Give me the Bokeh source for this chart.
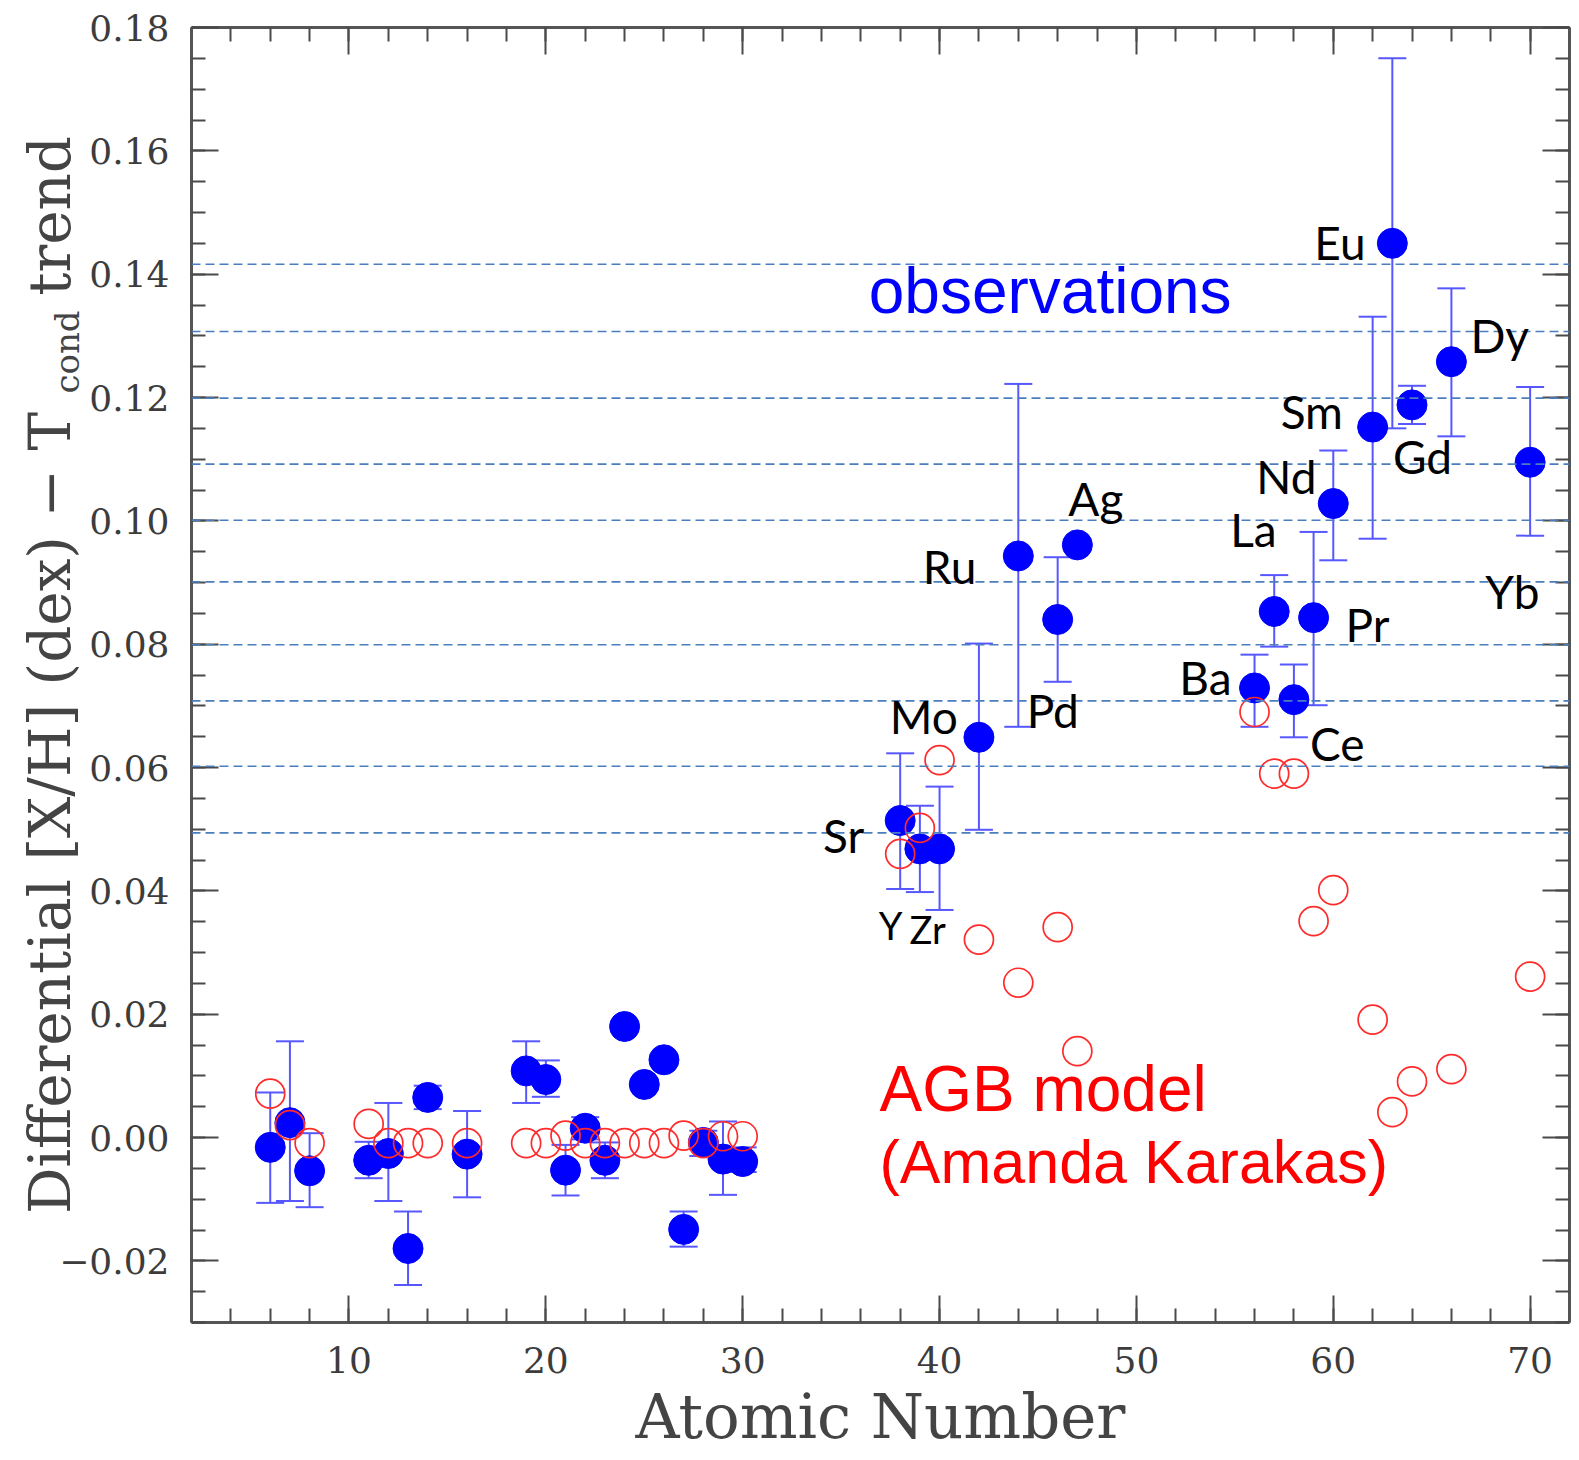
from bokeh.plotting import figure
from bokeh.models import (ColumnDataSource, Whisker, TeeHead, Span, Label, LinearAxis,
                          FixedTicker, CustomJSTickFormatter, Range1d)
from bokeh.embed import file_html
from bokeh.resources import INLINE

# ---------------------------------------------------------------- data
atomic_number = [6, 7, 8, 11, 12, 13, 14, 16, 19, 20, 21, 22, 23, 24, 25, 26, 27, 28, 29, 30,
                 38, 39, 40, 42, 44, 46, 47, 56, 57, 58, 59, 60, 62, 63, 64, 66, 70]
element = ["C", "N", "O", "Na", "Mg", "Al", "Si", "S", "K", "Ca", "Sc", "Ti", "V", "Cr", "Mn",
           "Fe", "Co", "Ni", "Cu", "Zn",
           "Sr", "Y", "Zr", "Mo", "Ru", "Pd", "Ag", "Ba", "La", "Ce", "Pr", "Nd", "Sm", "Eu",
           "Gd", "Dy", "Yb"]

# observed differential abundance after removing the T_cond trend (dex)
observed = [-0.0016, 0.0024, -0.0054, -0.0037, -0.0026, -0.0180, 0.0065, -0.0027, 0.0108, 0.0094,
            -0.0053, 0.0015, -0.0037, 0.0180, 0.0086, 0.0126, -0.0149, -0.0008, -0.0035, -0.0039,
            0.0514, 0.0468, 0.0468, 0.0649, 0.0943, 0.0840, 0.0961, 0.0729, 0.0853, 0.0710,
            0.0843, 0.1028, 0.1152, 0.1450, 0.1188, 0.1258, 0.1095]

# error bar ends (None: no bar)
err_top = [0.0073, 0.0156, 0.0007, -0.0007, 0.0056, -0.0120, 0.0084, 0.0043, 0.0156, 0.0125,
           -0.0012, 0.0033, -0.0008, None, None, None, -0.0120, 0.0011, 0.0026, -0.0016,
           0.0623, 0.0538, 0.0569, 0.0801, 0.1222, 0.0941, None, 0.0783, 0.0912, 0.0767,
           0.0982, 0.1114, 0.1331, 0.1750, 0.1219, 0.1377, 0.1217]
err_bottom = [-0.0106, -0.0103, -0.0113, -0.0066, -0.0103, -0.0239, 0.0046, -0.0097, 0.0056, 0.0066,
              -0.0094, -0.0003, -0.0066, None, None, None, -0.0177, -0.0030, -0.0093, -0.0056,
              0.0403, 0.0398, 0.0369, 0.0499, 0.0666, 0.0739, None, 0.0666, 0.0796, 0.0649,
              0.0701, 0.0936, 0.0971, 0.1150, 0.1157, 0.1137, 0.0976]

# AGB model prediction (Amanda Karakas)
agb_model = [0.0071, 0.0020, -0.0009, 0.0022, -0.0009, -0.0009, -0.0009, -0.0009, -0.0009, -0.0009,
             0.0003, -0.0009, -0.0009, -0.0009, -0.0009, -0.0009, 0.0003, -0.0009, 0.0002, 0.0002,
             0.0460, 0.0502, 0.0612, 0.0321, 0.0251, 0.0341, 0.0140, 0.0690, 0.0590, 0.0590,
             0.0351, 0.0401, 0.0191, 0.0041, 0.0091, 0.0111, 0.0261]

# dashed reference levels
guide_levels = [0.1416, 0.1307, 0.1199, 0.1092, 0.1001, 0.0901, 0.0799, 0.0708, 0.0602, 0.0494]

x_major = [10, 20, 30, 40, 50, 60, 70]
y_major = [-0.02, 0.0, 0.02, 0.04, 0.06, 0.08, 0.10, 0.12, 0.14, 0.16, 0.18]

# ---------------------------------------------------------------- styling
BLUE = "#0000ff"
ERR = "#5757ff"
RED = "#ff2b2b"
GUIDE = "#4a7ebf"
AXIS = "#555555"
TICK_TXT = "#3c3c3c"
TITLE_TXT = "#444444"
SERIF = "DejaVu Serif"
SANS = "Liberation Sans"
ELEM_FONT = "Lato"
EMSP = "\u2003"

# element label placement: (text_align, dx px, dy px below marker centre, size)
label_place = {
    "Sr": ("right", -36, 15, "46px"),
    "Y":  ("left", -41, 76, "38px"),
    "Zr": ("left", -30, 80, "38px"),
    "Mo": ("right", -21, -21, "46px"),
    "Ru": ("right", -42, 11, "46px"),
    "Pd": ("left", -31, 91, "46px"),
    "Ag": ("left", -9, -46, "46px"),
    "Ba": ("right", -23, -10, "46px"),
    "La": ("left", -44, -82, "46px"),
    "Ce": ("left", 16, 44, "46px"),
    "Pr": ("left", 32, 7, "46px"),
    "Nd": ("left", -77, -27, "46px"),
    "Sm": ("left", -92, -16, "46px"),
    "Eu": ("left", -78, -1, "46px"),
    "Gd": ("left", -19, 52, "46px"),
    "Dy": ("left", 19, -26, "46px"),
    "Yb": ("left", -45, 129, "46px"),
}

p = figure(width=1579, height=1460, x_range=Range1d(2, 72), y_range=Range1d(-0.03, 0.18),
           output_backend="svg", toolbar_location=None,
           min_border_left=191, min_border_right=10, min_border_top=27, min_border_bottom=138,
           background_fill_color="white", border_fill_color="white")
p.outline_line_color = None
p.xgrid.visible = False
p.ygrid.visible = False

bottom_axis = p.xaxis[0]
left_axis = p.yaxis[0]

x_ticker = FixedTicker(ticks=x_major, minor_ticks=list(range(2, 73, 2)))
y_ticker = FixedTicker(ticks=y_major, minor_ticks=[round(-0.03 + 0.005 * i, 4) for i in range(43)])

y_fmt = CustomJSTickFormatter(code="""
    const v = Math.abs(tick) < 1e-9 ? 0 : tick;
    return (v < 0 ? '\\u2212' : '') + Math.abs(v).toFixed(2);
""")
x_fmt = CustomJSTickFormatter(code="return Math.round(tick).toString();")
blank_fmt = CustomJSTickFormatter(code="return '';")


def style_axis(ax, ticker, fmt, standoff):
    ax.ticker = ticker
    ax.formatter = fmt
    ax.axis_line_color = AXIS
    ax.axis_line_width = 3
    ax.major_tick_in = 27
    ax.major_tick_out = 0
    ax.minor_tick_in = 14
    ax.minor_tick_out = 0
    ax.major_tick_line_color = "#4a4a4a"
    ax.major_tick_line_width = 2
    ax.minor_tick_line_color = "#4a4a4a"
    ax.minor_tick_line_width = 2
    ax.major_label_text_font = SERIF
    ax.major_label_text_font_size = "36px"
    ax.major_label_text_color = TICK_TXT
    ax.major_label_standoff = standoff
    ax.axis_label = None


def style_title(ax, text, size, standoff):
    ax.axis_label = text
    ax.axis_label_text_font = SERIF
    ax.axis_label_text_font_size = size
    ax.axis_label_text_font_style = "normal"
    ax.axis_label_text_color = TITLE_TXT
    ax.axis_label_standoff = standoff


style_axis(bottom_axis, x_ticker, x_fmt, 24)
style_axis(left_axis, y_ticker, y_fmt, 22)

top_axis = LinearAxis()
style_axis(top_axis, x_ticker, blank_fmt, 0)
top_axis.major_label_text_font_size = "10px"
p.add_layout(top_axis, "above")

right_axis = LinearAxis()
style_axis(right_axis, y_ticker, blank_fmt, 0)
right_axis.major_label_text_font_size = "10px"
p.add_layout(right_axis, "right")

# axis titles: the subscript "cond" rides on the tick-label axis, the main
# y title on a bare outer axis, so the two can sit side by side
style_title(bottom_axis, "Atomic Number", "61px", 5)
style_title(left_axis, EMSP * 19 + "cond", "34px", -31)

title_axis = LinearAxis(ticker=FixedTicker(ticks=[], minor_ticks=[]), formatter=blank_fmt)
title_axis.axis_line_color = None
title_axis.major_tick_line_color = None
title_axis.minor_tick_line_color = None
title_axis.major_tick_in = 0
title_axis.major_tick_out = 0
title_axis.minor_tick_in = 0
title_axis.minor_tick_out = 0
title_axis.major_label_standoff = 0
style_title(title_axis, "Differential [X/H] (dex) \u2212 T" + EMSP * 2 + "trend", "58px", -39)
p.add_layout(title_axis, "left")

# ---------------------------------------------------------------- marks
bars = [(z, t, b) for z, t, b in zip(atomic_number, err_top, err_bottom) if t is not None]
err_src = ColumnDataSource(dict(x=[b[0] for b in bars], upper=[b[1] for b in bars],
                                lower=[b[2] for b in bars]))
whisk = Whisker(base="x", upper="upper", lower="lower", source=err_src, dimension="height",
                line_color=ERR, line_width=2,
                upper_head=TeeHead(size=28, line_color=ERR, line_width=2),
                lower_head=TeeHead(size=28, line_color=ERR, line_width=2))
p.add_layout(whisk)

src = ColumnDataSource(dict(z=atomic_number, obs=observed, agb=agb_model, el=element))
p.scatter("z", "obs", source=src, size=30, marker="circle",
          fill_color=BLUE, line_color=BLUE, line_width=1)
p.scatter("z", "agb", source=src, size=29, marker="circle",
          fill_color=None, line_color=RED, line_width=1.7)

for lvl in guide_levels:
    p.add_layout(Span(location=lvl, dimension="width", line_color=GUIDE,
                      line_width=1.6, line_dash="9 5"))

# element names
for z, v, el in zip(atomic_number, observed, element):
    if el not in label_place:
        continue
    align, dx, dy, size = label_place[el]
    p.add_layout(Label(x=z, y=v, text=el, x_offset=dx, y_offset=-dy,
                       text_align=align, text_baseline="alphabetic",
                       text_font=ELEM_FONT, text_font_size=size, text_color="black"))

# series captions
p.add_layout(Label(x=36.4, y=0.1372, text="observations", text_align="left",
                   text_baseline="alphabetic", text_font=SANS, text_font_size="64px",
                   text_color=BLUE))
p.add_layout(Label(x=36.95, y=0.0079, text="AGB model", text_align="left",
                   text_baseline="alphabetic", text_font=SANS, text_font_size="64px",
                   text_color="#ff0000"))
p.add_layout(Label(x=36.95, y=-0.0040, text="(Amanda Karakas)", text_align="left",
                   text_baseline="alphabetic", text_font=SANS, text_font_size="61px",
                   text_color="#ff0000"))

open("out.html", "w").write(file_html(p, INLINE))
